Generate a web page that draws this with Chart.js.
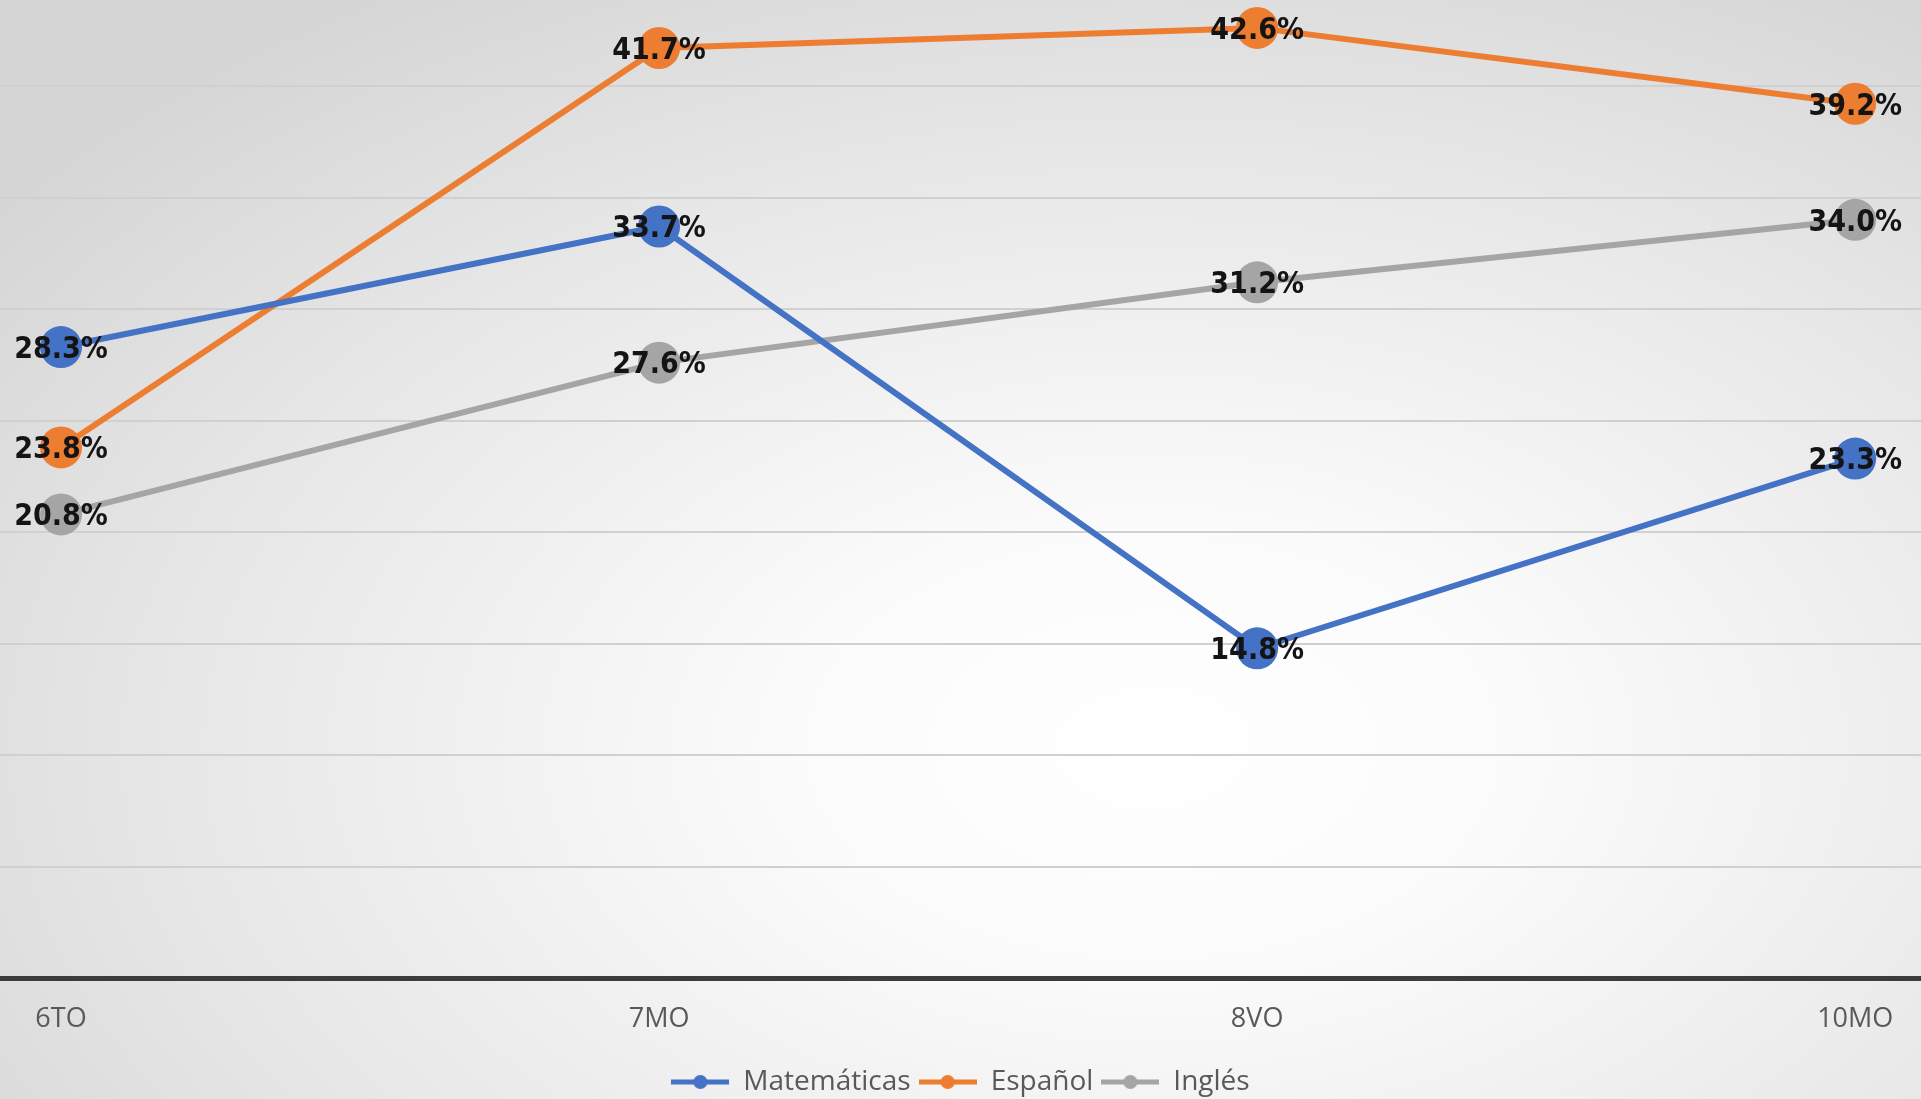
<!DOCTYPE html>
<html lang="es">
<head>
<meta charset="UTF-8">
<title>Matemáticas, Español, Inglés</title>
<script src="https://cdn.jsdelivr.net/npm/chart.js"></script>
<style>
  html, body { margin: 0; padding: 0; }
  body {
    width: 1921px;
    height: 1099px;
    overflow: hidden;
    background: radial-gradient(ellipse 75% 80% at 60% 68%, #ffffff 0%, #fbfbfb 25%, #e6e6e6 70%, #d6d6d6 100%);
  }
  .wrap { position: relative; width: 1921px; height: 1099px; }
</style>
</head>
<body>
<div class="wrap"><canvas id="chart"></canvas></div>
<script>
// data
const grades = ['6TO', '7MO', '8VO', '10MO'];
const matematicas = [28.3, 33.7, 14.8, 23.3];
const espanol = [23.8, 41.7, 42.6, 39.2];
const ingles = [20.8, 27.6, 31.2, 34.0];
const seriesNames = ['Matemáticas', 'Español', 'Inglés'];
const seriesColors = ['#4472C4', '#ED7D31', '#A5A5A5'];
const gridSteps = [0, 5, 10, 15, 20, 25, 30, 35, 40];

function toPoints(arr) {
  return arr.map((v, i) => ({ x: i, y: v }));
}

// little line + dot marker for the legend
function legendMarker(color) {
  const c = document.createElement('canvas');
  c.width = 58; c.height = 20;
  const g = c.getContext('2d');
  g.strokeStyle = color;
  g.lineWidth = 5;
  g.beginPath(); g.moveTo(0, 10); g.lineTo(58, 10); g.stroke();
  g.fillStyle = color;
  g.beginPath(); g.arc(29, 10, 7, 0, Math.PI * 2); g.fill();
  return c;
}

const valueLabels = {
  id: 'valueLabels',
  afterDatasetsDraw(chart) {
    const ctx = chart.ctx;
    ctx.save();
    ctx.font = 'bold 30px "DejaVu Sans Condensed", "DejaVu Sans"';
    ctx.fillStyle = '#141414';
    ctx.textAlign = 'center';
    ctx.textBaseline = 'middle';
    chart.data.datasets.forEach((ds, di) => {
      chart.getDatasetMeta(di).data.forEach((pt, i) => {
        ctx.fillText(ds.data[i].y.toFixed(1) + '%', pt.x, pt.y + 3);
      });
    });
    ctx.restore();
  }
};

const allSeries = [matematicas, espanol, ingles];

new Chart(document.getElementById('chart'), {
  type: 'line',
  data: {
    datasets: allSeries.map((s, k) => ({
      label: seriesNames[k],
      data: toPoints(s),
      borderColor: seriesColors[k],
      backgroundColor: seriesColors[k],
      borderWidth: 6,
      pointRadius: 21,
      pointHoverRadius: 21,
      pointBorderWidth: 0,
      tension: 0,
      fill: false,
      clip: false
    }))
  },
  options: {
    responsive: true,
    maintainAspectRatio: false,
    animation: false,
    layout: { padding: { top: 0, left: 0, right: 0, bottom: -7 }, autoPadding: false },
    scales: {
      x: {
        type: 'linear',
        min: -0.102,
        max: 3.110,
        afterBuildTicks: (scale) => { scale.ticks = grades.map((g, i) => ({ value: i })); },
        afterFit: (scale) => { scale.height += 7; },
        grid: { display: false },
        border: { display: false },
        ticks: {
          padding: 17,
          color: '#595959',
          font: { family: 'Open Sans', size: 27 },
          callback: (v) => grades[v]
        }
      },
      y: {
        min: 0,
        max: 43.85,
        afterBuildTicks: (scale) => { scale.ticks = gridSteps.map(v => ({ value: v })); },
        ticks: { display: false },
        border: { display: false },
        grid: {
          drawTicks: false,
          color: (c) => c.tick && c.tick.value === 0 ? '#3c3c3c' : '#d0d0d0',
          lineWidth: (c) => c.tick && c.tick.value === 0 ? 5 : 2
        }
      }
    },
    plugins: {
      legend: {
        position: 'bottom',
        labels: {
          usePointStyle: true,
          pointStyleWidth: 58,
          boxHeight: 20,
          padding: 8,
          color: '#595959',
          font: { family: 'Open Sans', size: 28 },
          generateLabels: (chart) => chart.data.datasets.map((ds, i) => ({
            text: ds.label,
            pointStyle: legendMarker(seriesColors[i]),
            fillStyle: seriesColors[i],
            strokeStyle: seriesColors[i],
            lineWidth: 0,
            fontColor: '#595959',
            datasetIndex: i,
            hidden: false
          }))
        }
      },
      tooltip: { enabled: false }
    }
  },
  plugins: [valueLabels]
});
</script>
</body>
</html>
